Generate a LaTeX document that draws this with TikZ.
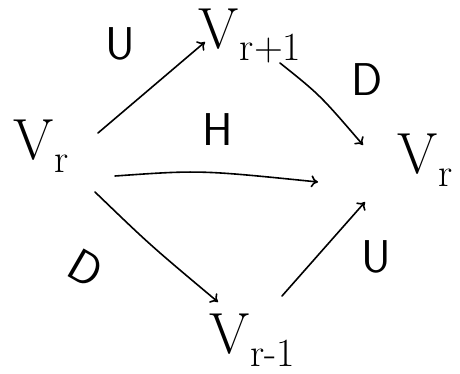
\documentclass[tikz,border=0pt]{standalone}
\usetikzlibrary{arrows.meta}
\newcommand{\vsub}[1]{V\kern1pt\raisebox{-0.22em}{\fontsize{40}{40}\selectfont #1}}
\begin{document}
\begin{tikzpicture}[x=1pt,y=-1pt,
  big/.style={inner sep=0pt,font=\fontsize{58}{58}\selectfont},
  lab/.style={inner sep=0pt,font=\fontsize{46}{46}\selectfont\sffamily},
  arr/.style={line width=1.6pt,-{To[length=7pt,width=12pt]},line cap=round}]
\useasboundingbox (0,0) rectangle (460,374);
\node[big] (vl) at (41,146) {\vsub{r}};
\node[big] (vt) at (250,36) {\vsub{r+1}};
\node[big] (vr) at (425,160) {\vsub{r}};
\node[big] (vb) at (252,340) {\vsub{r-1}};
\node[lab] (u1) at (120,44) {U};
\node[lab] (d1) at (367,80) {D};
\node[lab] (h) at (218,130) {H};
\node[lab,rotate=-30] (d2) at (86,268) {D};
\node[lab] (u2) at (376,257) {U};
\coordinate (a1s) at (98,133);
\coordinate (a1e) at (205,42);
\coordinate (a2s) at (280,63);
\coordinate (a2e) at (363,145);
\coordinate (a3s) at (115,176);
\coordinate (a3e) at (318,182);
\coordinate (a4s) at (95,192);
\coordinate (a4e) at (218,302);
\coordinate (a5s) at (282,296);
\coordinate (a5e) at (365,202);
\draw[arr] (a1s) -- (a1e);
\draw[arr] (a2s) .. controls (320,95) .. (a2e);
\draw[arr] (a3s) .. controls (200,170) .. (a3e);
\draw[arr] (a4s) .. controls (150,245) .. (a4e);
\draw[arr] (a5s) -- (a5e);
\end{tikzpicture}
\end{document}
